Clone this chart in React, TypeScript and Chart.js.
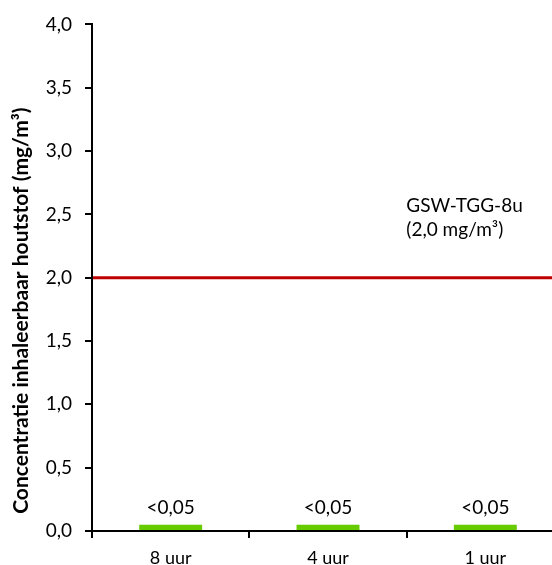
import React, { useEffect, useRef } from "react";
import { Chart, registerables } from "chart.js";

Chart.register(...registerables);

const categories = ["8 uur", "4 uur", "1 uur"];
const values = [0.05, 0.05, 0.05];
const valueLabels = ["<0,05", "<0,05", "<0,05"];
const limitValue = 2.0;
const limitLabel = ["GSW-TGG-8u", "(2,0 mg/m³)"];
const yTitle = "Concentratie inhaleerbaar houtstof (mg/m³)";

const FONT = "Lato, 'Open Sans', sans-serif";

const overlay = {
  id: "overlay",
  afterDatasetsDraw(chart: any) {
    const { ctx, chartArea, scales } = chart;
    const y = scales.y.getPixelForValue(limitValue);
    ctx.save();
    ctx.strokeStyle = "#c00000";
    ctx.lineWidth = 3;
    ctx.beginPath();
    ctx.moveTo(chartArea.left + 1, y);
    ctx.lineTo(chartArea.right, y);
    ctx.stroke();

    // value labels
    ctx.fillStyle = "#000";
    ctx.font = `19px ${FONT}`;
    ctx.textAlign = "center";
    ctx.textBaseline = "alphabetic";
    const meta = chart.getDatasetMeta(0);
    meta.data.forEach((bar: any, i: number) => {
      ctx.fillText(valueLabels[i], bar.x, bar.y - 11);
    });

    // limit annotation
    ctx.textAlign = "left";
    ctx.textBaseline = "middle";
    const xText = scales.x.getPixelForValue(2) - 79;
    const yText = scales.y.getPixelForValue(2.5);
    ctx.fillText(limitLabel[0], xText, yText - 9);
    ctx.fillText(limitLabel[1], xText, yText + 15);

    // y-axis title
    ctx.font = `bold 21px ${FONT}`;
    ctx.textAlign = "center";
    ctx.translate(21, scales.y.getPixelForValue(1.74));
    ctx.rotate(-Math.PI / 2);
    ctx.fillText(yTitle, 0, 0);
    ctx.restore();
  },
};

export default function App() {
  const ref = useRef<HTMLCanvasElement>(null);
  useEffect(() => {
    if (!ref.current) return;
    const chart = new Chart(ref.current, {
      type: "bar",
      data: {
        labels: categories,
        datasets: [
          {
            data: values,
            backgroundColor: "#66cc00",
            categoryPercentage: 0.4,
            barPercentage: 1,
          },
        ],
      },
      options: {
        animation: false,
        responsive: false,
        maintainAspectRatio: false,
        layout: { padding: { top: 22, right: 2, left: 0, bottom: 0 } },
        plugins: { legend: { display: false }, tooltip: { enabled: false } },
        scales: {
          x: {
            grid: {
              display: true,
              offset: true,
              drawOnChartArea: false,
              drawTicks: true,
              tickLength: 7,
              color: "#000",
              lineWidth: 2,
            },
            border: { display: true, color: "#000", width: 2 },
            ticks: { color: "#000", font: { family: FONT, size: 18 }, padding: 9 },
            afterFit: (s: any) => {
              s.height = 34;
            },
          },
          y: {
            min: 0,
            max: 4,
            ticks: {
              stepSize: 0.5,
              color: "#000",
              font: { family: FONT, size: 19 },
              padding: 13,
              callback: (v: any) => Number(v).toFixed(1).replace(".", ","),
            },
            grid: {
              display: true,
              drawOnChartArea: false,
              drawTicks: true,
              tickLength: 7,
              color: "#000",
              lineWidth: 2,
            },
            border: { display: true, color: "#000", width: 2 },
            afterFit: (s: any) => {
              s.width = 92;
            },
          },
        },
      },
      plugins: [overlay],
    });
    return () => chart.destroy();
  }, []);
  return (
    <div style={{ position: "fixed", left: 0, top: 0, width: 566, height: 565, overflow: "hidden", background: "#fff" }}>
      <canvas ref={ref} width={566} height={565} style={{ width: 566, height: 565 }} />
    </div>
  );
}
